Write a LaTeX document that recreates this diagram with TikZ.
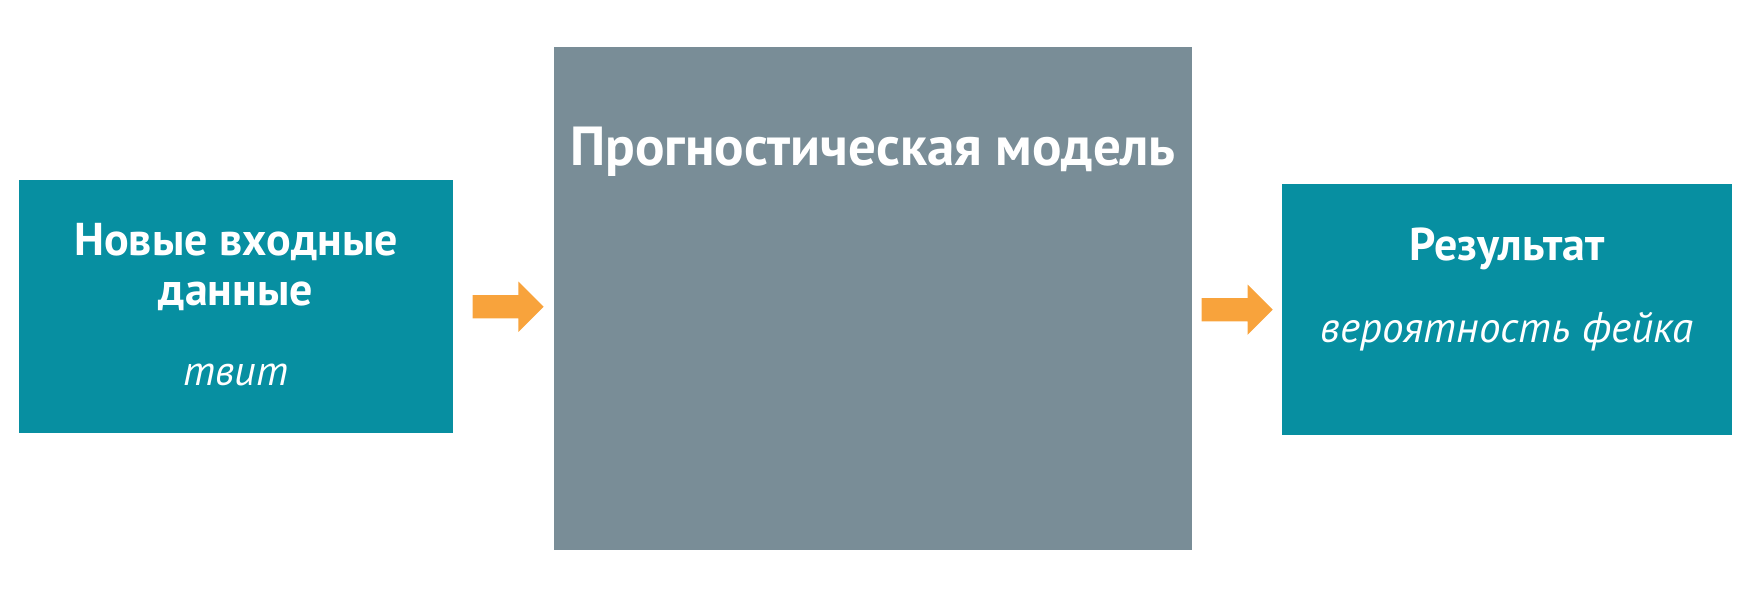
\documentclass[tikz,border=0pt]{standalone}
\usepackage{fontspec}
\setmainfont{PT Sans}
\usetikzlibrary{positioning, shapes.arrows}

\definecolor{tealbox}{HTML}{078FA1}
\definecolor{modelgray}{HTML}{798D97}
\definecolor{arroworange}{HTML}{F8A33C}

\tikzset{
    box/.style={fill=#1, inner sep=0pt, anchor=north west},
    head/.style={text=white, font=\bfseries\fontsize{46}{56}\selectfont, align=center, anchor=base},
    sub/.style={text=white, font=\itshape\fontsize{42}{50}\selectfont, anchor=base},
    blockarrow/.style={single arrow, fill=arroworange, inner xsep=0pt, inner ysep=11.5pt,
        minimum height=71pt, single arrow head extend=13.5pt}
}

\begin{document}
\begin{tikzpicture}[x=1pt, y=-1pt]
    \useasboundingbox (0,0) rectangle (1757,592);

    \node[box=tealbox, minimum width=434pt, minimum height=253pt] (in) at (19, 180) {};
    \node[box=modelgray, minimum width=638pt, minimum height=503pt] (model) at (554, 47) {};
    \node[box=tealbox, minimum width=450pt, minimum height=251pt] (out) at (1282, 184) {};

    % texts
    \node[head] (intitle) at (236, 305) {Новые входные\\[-6pt]данные};
    \node[sub] (insub) at (236, 385) {твит};
    \node[head, font=\bfseries\fontsize{55}{66}\selectfont] (modeltitle) at (873, 165) {Прогностическая модель};
    \node[head] (outtitle) at (1507, 260) {Результат};
    \node[sub, font=\itshape\fontsize{43}{52}\selectfont] (outsub) at (1507, 342) {вероятность фейка};

    % arrows
    \node[blockarrow, right=19pt of in] (a1) {};
    \node[blockarrow, left=9pt of out] (a2) {};
\end{tikzpicture}
\end{document}
